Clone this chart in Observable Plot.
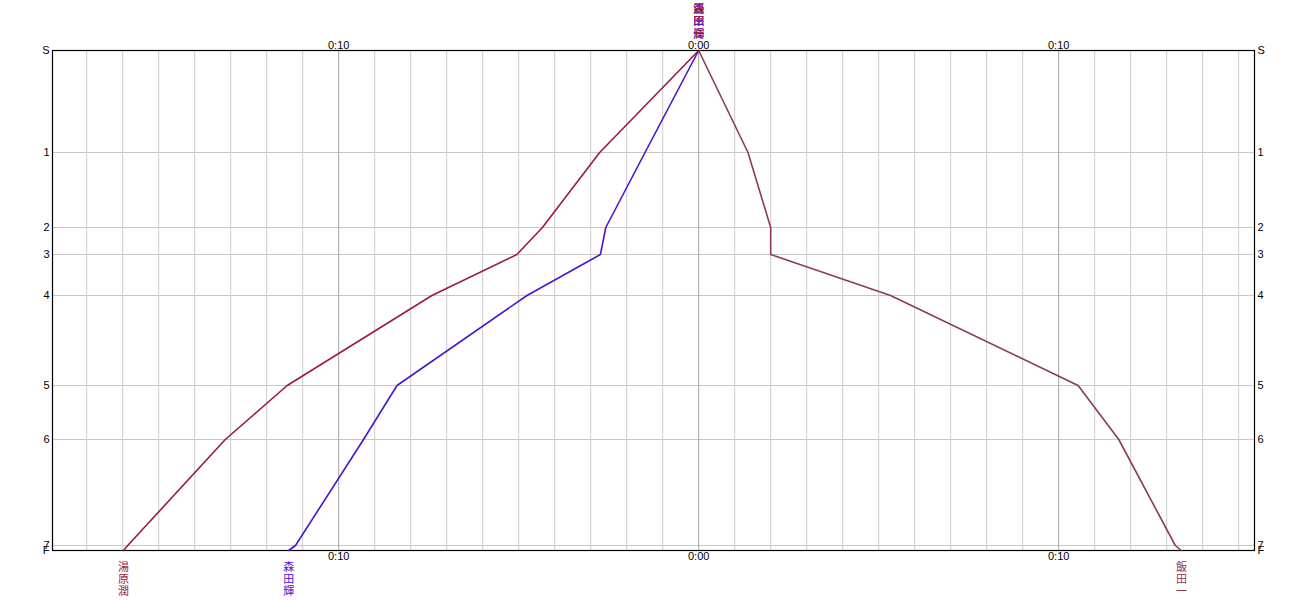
<!DOCTYPE html>
<html>
<head>
<meta charset="utf-8">
<script src="https://cdn.jsdelivr.net/npm/d3@7"></script>
<script src="https://cdn.jsdelivr.net/npm/@observablehq/plot@0.6"></script>
<style>
  html, body { margin: 0; padding: 0; background: #fff; }
  #chart svg { display: block; }
</style>
</head>
<body>
<div id="chart"></div>
<script>
// Stations (distance positions along the route, top to bottom)
const stations = ["S", "1", "2", "3", "4", "5", "6", "7", "F"];
const stationPos = [0, 1.02, 1.77, 2.04, 2.45, 3.35, 3.89, 4.95, 5.00];

// Drivers and their colours
const drivers = ["湯原潤", "森田輝", "飯田一"];
const driverColors = ["#9b1a3e", "#4a12d2", "#8b3d4b"];

// Elapsed minutes at each station (left side drawn as negative)
const timesRed   = [0, -2.75, -4.34, -5.05, -7.41, -11.43, -13.15, -15.86, -15.98];
const timesBlue  = [0, -1.49, -2.58, -2.73, -4.77, -8.38, -9.31, -11.20, -11.39];
const timesBrown = [0, 1.37, 2.00, 2.00, 5.33, 10.54, 11.67, 13.24, 13.41];

// Axis ranges and ticks (minutes)
const xDomain = [-17.95, 15.44];
const minuteGrid = d3.range(-17, 16);
const majorGrid = [-10, 0, 10];
const labelTicks = [-10, 0, 10];

// ---- build tables ----
const seriesTimes = [timesRed, timesBlue, timesBrown];
const rows = [];
drivers.forEach((d, i) => {
  seriesTimes[i].forEach((t, j) => rows.push({driver: d, t, pos: stationPos[j], station: stations[j]}));
});
const ends = drivers.map((d, i) => ({
  driver: d,
  t: seriesTimes[i][seriesTimes[i].length - 1],
  label: Array.from(d).join("\n")
}));
const starts = drivers.map((d, i) => ({
  driver: d, t: seriesTimes[i][0], label: Array.from(d).join("\n")
}));
const drawOrder = [2, 1, 0];

const fmt = m => `0:${String(Math.abs(m)).padStart(2, "0")}`;
const innerStations = stationPos.slice(1, -1);
const font = "'Liberation Sans', 'DejaVu Sans', sans-serif";
const cjk = "'Noto Sans CJK JP', sans-serif";
const stationFmt = (v) => stations[stationPos.indexOf(v)];

const chart = Plot.plot({
  width: 1306,
  height: 600,
  marginLeft: 52,
  marginRight: 52,
  marginTop: 50,
  marginBottom: 50,
  style: {fontFamily: font, fontSize: "11px", color: "#000", background: "#fff"},
  x: {domain: xDomain, label: null},
  y: {domain: [0, 5.00], reverse: true, label: null},
  marks: [
    Plot.ruleY(innerStations, {stroke: "#c8c8c8", strokeWidth: 1}),
    Plot.ruleX(minuteGrid.filter(m => !majorGrid.includes(m)), {stroke: "#cccccc", strokeWidth: 1}),
    Plot.ruleX(majorGrid, {stroke: "#a4a4a4", strokeWidth: 1}),
    Plot.frame({stroke: "#000", strokeWidth: 1.2}),
    Plot.axisX({anchor: "top", ticks: labelTicks, tickSize: 0, tickPadding: 2, tickFormat: fmt, fontSize: 11, label: null}),
    Plot.axisX({anchor: "bottom", ticks: labelTicks, tickSize: 0, tickPadding: 2, tickFormat: fmt, fontSize: 11, label: null}),
    Plot.axisY({anchor: "left", ticks: stationPos, tickSize: 0, tickPadding: 3, tickFormat: stationFmt, fontSize: 11, label: null}),
    Plot.axisY({anchor: "right", ticks: stationPos, tickSize: 0, tickPadding: 3, tickFormat: stationFmt, fontSize: 11, label: null}),
    ...drawOrder.map(i => Plot.line(rows.filter(r => r.driver === drivers[i]), {
      x: "t", y: "pos", stroke: driverColors[i], strokeWidth: 1.6, curve: "linear"
    })),
    ...drawOrder.map(i => Plot.text([starts[i]], {
      x: "t", frameAnchor: "top", text: "label", fill: driverColors[i],
      lineAnchor: "bottom", lineHeight: 1.1, dy: -13, fontSize: 11, fontFamily: cjk
    })),
    ...drawOrder.map(i => Plot.text([ends[i]], {
      x: "t", frameAnchor: "bottom", text: "label", fill: driverColors[i],
      lineAnchor: "top", lineHeight: 1.1, dy: 12, fontSize: 11, fontFamily: cjk
    }))
  ]
});
document.getElementById("chart").appendChild(chart);
</script>
</body>
</html>
